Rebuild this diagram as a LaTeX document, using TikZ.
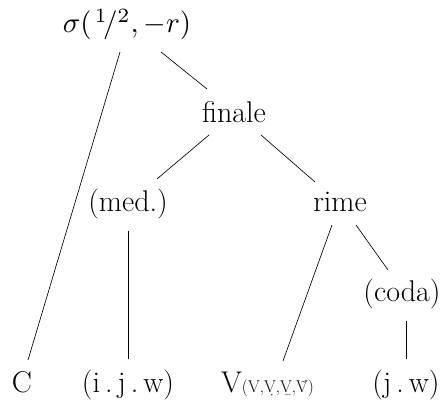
\documentclass[tikz,border=0pt]{standalone}
\usepackage{fontspec}
\begin{document}
\begin{tikzpicture}[x=1pt,y=1pt,
  lbl/.style={inner sep=0pt, anchor=base, font=\fontsize{30}{34}\selectfont},
  edge/.style={line width=0.65pt, black}]
\useasboundingbox (0,0) rectangle (445,404);
\node[inner sep=0pt, anchor=base, scale=2.9] (sig) at (127,371) {$\sigma(\mkern2mu{}^{1}\!/{}^{2}, -r)$};
\node[lbl] (fin) at (234,281) {finale};
\node[lbl] (med) at (128,192) {(med.)};
\node[lbl] (rime) at (340,192) {rime};
\node[lbl] (coda) at (402,102) {(coda)};
\node[lbl] (C) at (22,11) {C};
\node[lbl] (ijw) at (128,11) {(i\,.\,j\,.\,w)};
\node[lbl, anchor=base west] (V) at (221,11) {V{\fontsize{17}{18}\selectfont(V,\d{V},\b{V},\~{V})}};
\node[lbl] (jw) at (406,11) {(j\,.\,w)};

\draw[edge] ([shift={(-7,-19)}]sig.base) -- ([shift={(6,33)}]C.base);
\draw[edge] ([shift={(34,-19)}]sig.base) -- ([shift={(-27,34)}]fin.base);
\draw[edge] ([shift={(-25,-12)}]fin.base) -- ([shift={(29,33)}]med.base);
\draw[edge] ([shift={(27,-12)}]fin.base) -- ([shift={(-25,30)}]rime.base);
\draw[edge] ([shift={(0,-19)}]med.base) -- ([shift={(0,34)}]ijw.base);
\draw[edge] ([shift={(-8,-13)}]rime.base) -- ([shift={(62,32)}]V.base west);
\draw[edge] ([shift={(16,-13)}]rime.base) -- ([shift={(-14,32)}]coda.base);
\draw[edge] ([shift={(4,-19)}]coda.base) -- ([shift={(0,34)}]jw.base);
\end{tikzpicture}
\end{document}
